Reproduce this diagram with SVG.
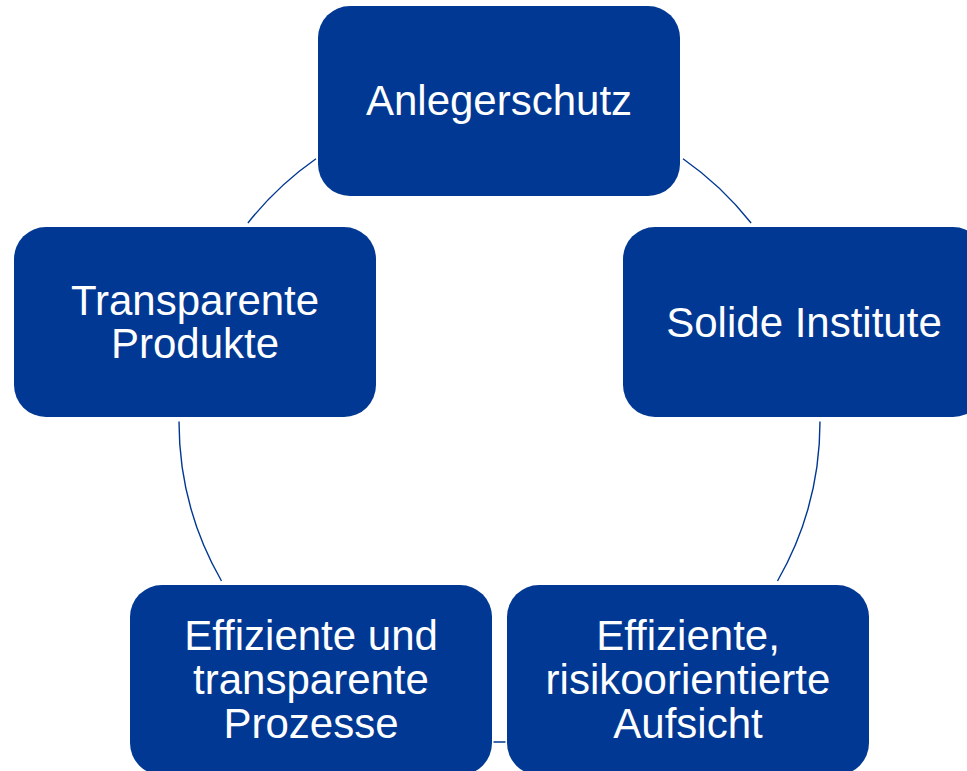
<svg xmlns="http://www.w3.org/2000/svg" width="967" height="771" viewBox="0 0 967 771">
<style>
.box{fill:#003893;}
.lbl{fill:#ffffff;font-family:"Liberation Sans",Arial,sans-serif;font-size:42px;text-anchor:middle;}
.ring{fill:none;stroke:#003893;stroke-width:1.4;}
</style>
<rect width="967" height="771" fill="#ffffff"/>
<g id="connectors">
<path class="ring" d="M 683 158.7 A 320.5 320.5 0 0 1 751.1 223"/>
<path class="ring" d="M 820 421.5 A 320.5 320.5 0 0 1 777.5 581"/>
<path class="ring" d="M 505.5 742 A 320.5 320.5 0 0 1 493.5 742"/>
<path class="ring" d="M 221.5 581 A 320.5 320.5 0 0 1 179 421.5"/>
<path class="ring" d="M 247.9 223 A 320.5 320.5 0 0 1 316 158.7"/>
</g>
<g id="node-anlegerschutz">
<rect class="box" x="318" y="6" width="362" height="190" rx="32"/>
<text class="lbl" x="499" y="115">Anlegerschutz</text>
</g>
<g id="node-solide">
<rect class="box" x="623" y="227" width="362" height="190" rx="32"/>
<text class="lbl" x="804" y="337">Solide Institute</text>
</g>
<g id="node-transparente">
<rect class="box" x="14" y="227" width="362" height="190" rx="32"/>
<text class="lbl" x="195" y="315">Transparente</text>
<text class="lbl" x="195" y="358">Produkte</text>
</g>
<g id="node-prozesse">
<rect class="box" x="130" y="585" width="362" height="190" rx="32"/>
<text class="lbl" x="311" y="650">Effiziente und</text>
<text class="lbl" x="311" y="694">transparente</text>
<text class="lbl" x="311" y="738">Prozesse</text>
</g>
<g id="node-aufsicht">
<rect class="box" x="507" y="585" width="362" height="190" rx="32"/>
<text class="lbl" x="688" y="650">Effiziente,</text>
<text class="lbl" x="688" y="694">risikoorientierte</text>
<text class="lbl" x="688" y="738">Aufsicht</text>
</g>
</svg>
